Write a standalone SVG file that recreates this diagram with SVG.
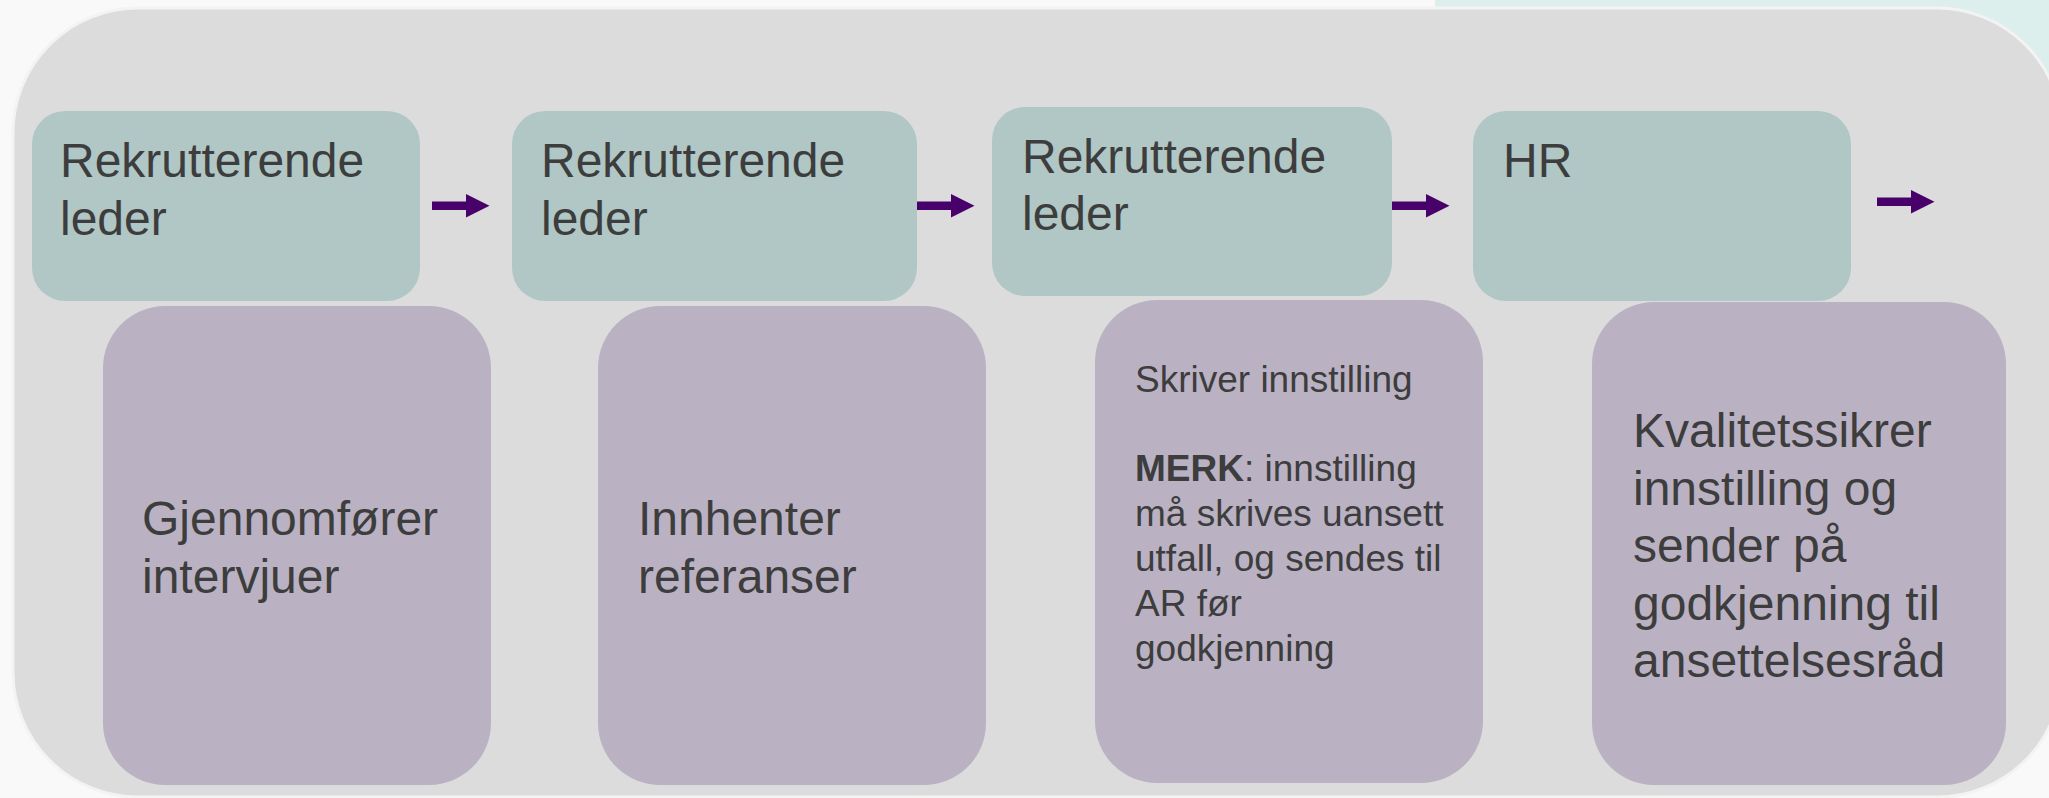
<svg xmlns="http://www.w3.org/2000/svg" width="2049" height="798" viewBox="0 0 2049 798">
  <style>
    .lane { fill: #b0c7c5; }
    .task { fill: #bab2c3; }
    .t { font-family: "Liberation Sans", Arial, sans-serif; fill: #3d3d3d; }
    .big { font-size: 48px; }
    .small { font-size: 37px; }
    .arrow { fill: #48006a; }
  </style>
  <defs>
    <path id="arr" d="M0,-4.2 L34,-4.2 L34,-11.7 L57.5,0 L34,11.7 L34,4.2 L0,4.2 Z"/>
  </defs>
  <rect x="0" y="0" width="2049" height="798" fill="#f9f9f9"/>
  <rect x="1435" y="-60" width="700" height="400" rx="22" fill="#ddefed"/>
  <rect id="panel" x="13" y="8" width="2049" height="789" rx="125" ry="125" fill="#dcdcdc" stroke="#f3f3f3" stroke-width="3"/>

  <g id="role1">
    <rect class="lane" x="32" y="111" width="388" height="190" rx="33"/>
    <text class="t big" x="60" y="177">Rekrutterende</text>
    <text class="t big" x="60" y="234.5">leder</text>
  </g>
  <g id="role2">
    <rect class="lane" x="512" y="111" width="405" height="190" rx="33"/>
    <text class="t big" x="541" y="177">Rekrutterende</text>
    <text class="t big" x="541" y="234.5">leder</text>
  </g>
  <g id="role3">
    <rect class="lane" x="992" y="107" width="400" height="189" rx="33"/>
    <text class="t big" x="1022" y="172.7">Rekrutterende</text>
    <text class="t big" x="1022" y="230.3">leder</text>
  </g>
  <g id="role4">
    <rect class="lane" x="1473" y="111" width="378" height="190" rx="33"/>
    <text class="t big" x="1503" y="177">HR</text>
  </g>

  <g id="task1">
    <rect class="task" x="103" y="306" width="388" height="479" rx="62"/>
    <text class="t big" x="142" y="535">Gjennomfører</text>
    <text class="t big" x="142" y="593">intervjuer</text>
  </g>
  <g id="task2">
    <rect class="task" x="598" y="306" width="388" height="479" rx="62"/>
    <text class="t big" x="638" y="535">Innhenter</text>
    <text class="t big" x="638" y="593">referanser</text>
  </g>
  <g id="task3">
    <rect class="task" x="1095" y="300" width="388" height="483" rx="62"/>
    <text class="t small" x="1135" y="391.5">Skriver innstilling</text>
    <text class="t small" x="1135" y="480.5"><tspan font-weight="bold">MERK</tspan>: innstilling</text>
    <text class="t small" x="1135" y="525.5">må skrives uansett</text>
    <text class="t small" x="1135" y="570.5">utfall, og sendes til</text>
    <text class="t small" x="1135" y="615.5">AR før</text>
    <text class="t small" x="1135" y="660.5">godkjenning</text>
  </g>
  <g id="task4">
    <rect class="task" x="1592" y="302" width="414" height="483" rx="62"/>
    <text class="t big" x="1633" y="447">Kvalitetssikrer</text>
    <text class="t big" x="1633" y="504.5">innstilling og</text>
    <text class="t big" x="1633" y="562">sender på</text>
    <text class="t big" x="1633" y="619.5">godkjenning til</text>
    <text class="t big" x="1633" y="677">ansettelsesråd</text>
  </g>

  <g id="connectors">
    <use href="#arr" class="arrow" x="432" y="205.7"/>
    <use href="#arr" class="arrow" x="917" y="205.7"/>
    <use href="#arr" class="arrow" x="1392" y="205.7"/>
    <use href="#arr" class="arrow" x="1877" y="201.7"/>
  </g>
</svg>
